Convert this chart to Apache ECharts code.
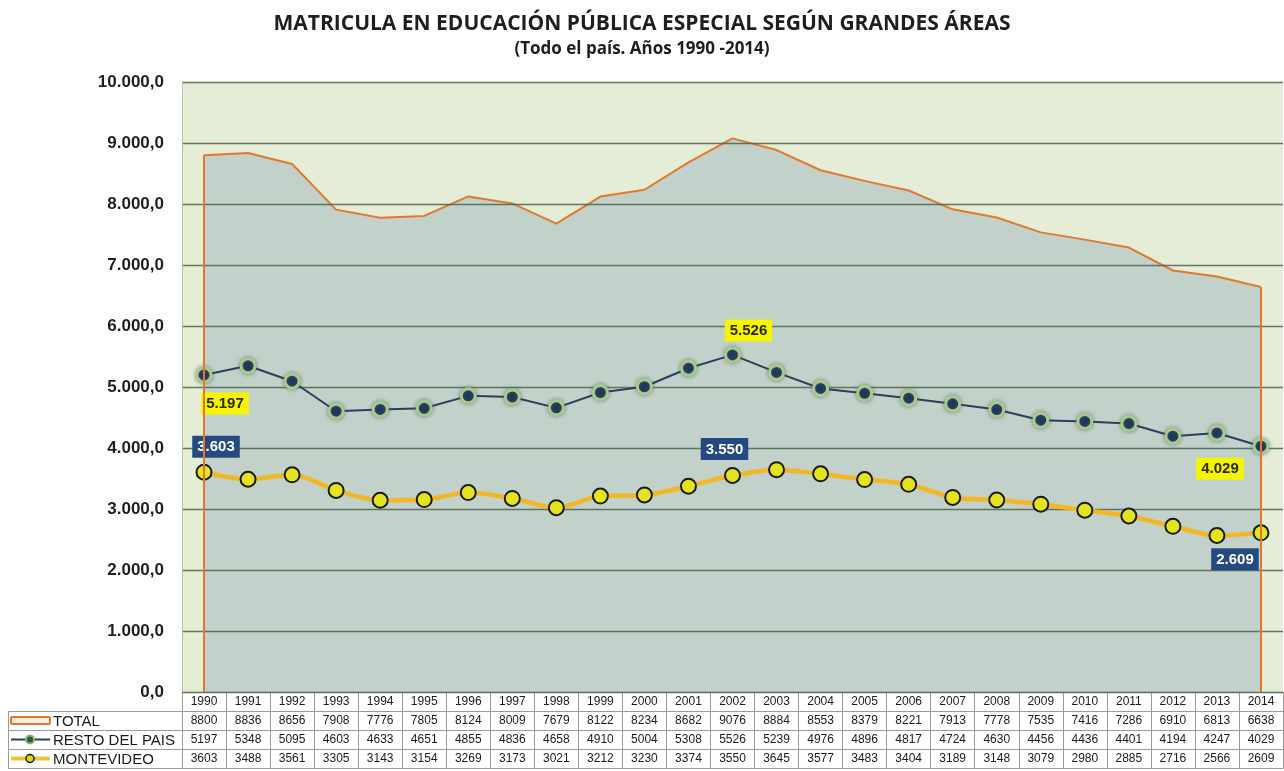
<!DOCTYPE html>
<html>
<head>
<meta charset="utf-8">
<style>
  html, body { margin: 0; padding: 0; background: #ffffff; }
  #chart { width: 1284px; height: 771px; }
</style>
<script src="https://cdn.jsdelivr.net/npm/echarts@6/dist/echarts.min.js"></script>
</head>
<body>
<div id="chart"></div>
<script>
// Enrolment in special public education by area, 1990-2014
const years = ['1990','1991','1992','1993','1994','1995','1996','1997','1998','1999','2000','2001','2002','2003','2004','2005','2006','2007','2008','2009','2010','2011','2012','2013','2014'];
const total = [8800,8836,8656,7908,7776,7805,8124,8009,7679,8122,8234,8682,9076,8884,8553,8379,8221,7913,7778,7535,7416,7286,6910,6813,6638];
const restoDelPais = [5197,5348,5095,4603,4633,4651,4855,4836,4658,4910,5004,5308,5526,5239,4976,4896,4817,4724,4630,4456,4436,4401,4194,4247,4029];
const montevideo = [3603,3488,3561,3305,3143,3154,3269,3173,3021,3212,3230,3374,3550,3645,3577,3483,3404,3189,3148,3079,2980,2885,2716,2566,2609];
const seriesNames = ['TOTAL', 'RESTO DEL PAIS', 'MONTEVIDEO'];
const yTicks = { min: 0, max: 10000, step: 1000 };

const chart = echarts.init(document.getElementById('chart'));

const fmtThousands = v => String(v).replace(/\B(?=(\d{3})+(?!\d))/g, '.');
const fmtAxis = v => fmtThousands(v) + ',0';

const GRID = { left: 182, right: 1, top: 82, bottom: 79 };
const ROW = 19;
const tableLine = '#9a9a9a';

// Table rows drawn as stacked category axes under the plot
function tableAxis(offset, values, showLabel) {
  return {
    type: 'category',
    data: years,
    position: 'bottom',
    offset: offset,
    boundaryGap: true,
    axisLine: { show: true, lineStyle: { color: tableLine, width: 1 } },
    axisTick: { show: showLabel, length: ROW, interval: 0, lineStyle: { color: tableLine, width: 1 } },
    axisLabel: {
      show: showLabel,
      interval: 0,
      margin: 4,
      fontFamily: 'Arial, "Liberation Sans", sans-serif',
      fontSize: 12,
      color: '#1a1a1a',
      formatter: (val, idx) => values ? String(values[idx]) : val
    },
    splitLine: { show: false }
  };
}

// Highlighted value labels
function labelled(values, marks) {
  return values.map((v, i) => {
    const m = marks[i];
    if (!m) return v;
    return {
      value: v,
      label: Object.assign({
        show: true,
        formatter: p => fmtThousands(p.value),
        fontFamily: 'Arial, "Liberation Sans", sans-serif',
        fontWeight: 'bold',
        fontSize: 15,
        padding: [4, 5, 3, 5]
      }, m)
    };
  });
}

const yellowTag = { backgroundColor: '#f6f400', color: '#2a2a10' };
const navyTag = { backgroundColor: '#244a80', color: '#ffffff' };

const restoMarks = {
  0: Object.assign({ position: 'bottom', offset: [21, 4] }, yellowTag),
  12: Object.assign({ position: 'top', offset: [16, 0] }, yellowTag),
  24: Object.assign({ position: 'bottom', offset: [-41, -2] }, yellowTag)
};
const montevideoMarks = {
  0: Object.assign({ position: 'top', offset: [12, -1] }, navyTag),
  12: Object.assign({ position: 'top', offset: [-8, -2] }, navyTag),
  24: Object.assign({ position: 'bottom', offset: [-26, 2] }, navyTag)
};

const last = years.length - 1;

const option = {
  backgroundColor: '#ffffff',
  animation: false,
  title: {
    text: 'MATRICULA EN EDUCACIÓN PÚBLICA ESPECIAL SEGÚN GRANDES ÁREAS',
    subtext: '(Todo el país. Años 1990 -2014)',
    left: 'center',
    top: 9,
    itemGap: 6,
    textStyle: { fontFamily: '"Open Sans", sans-serif', fontWeight: 'bold', fontSize: 21, color: '#1e1e1e' },
    subtextStyle: { fontFamily: '"Open Sans", sans-serif', fontWeight: 'bold', fontSize: 17, color: '#1e1e1e' }
  },
  grid: Object.assign({ show: true, backgroundColor: '#e6edd7', borderWidth: 0 }, GRID),
  xAxis: [
    tableAxis(0, null, true),
    tableAxis(ROW, total, true),
    tableAxis(ROW * 2, restoDelPais, true),
    tableAxis(ROW * 3, montevideo, true),
    tableAxis(ROW * 4, null, false)
  ],
  yAxis: {
    type: 'value',
    min: yTicks.min,
    max: yTicks.max,
    interval: yTicks.step,
    z: 1.5,
    axisLine: { show: true, lineStyle: { color: '#b8c4a8', width: 1 } },
    axisTick: { show: false },
    axisLabel: {
      margin: 18,
      fontFamily: 'Arial, "Liberation Sans", sans-serif',
      fontWeight: 'bold',
      fontSize: 17,
      color: '#1e1e1e',
      formatter: fmtAxis
    },
    splitLine: { show: true, lineStyle: { color: '#4f6b52', width: 1.4, opacity: 0.9 } }
  },
  series: [
    {
      name: seriesNames[0],
      type: 'line',
      data: total,
      z: 1,
      symbol: 'none',
      lineStyle: { color: '#e2782c', width: 2 },
      areaStyle: { color: '#c3d1cb', opacity: 1 },
      markLine: {
        silent: true,
        symbol: 'none',
        label: { show: false },
        lineStyle: { color: '#e2782c', width: 2, type: 'solid' },
        data: [
          [{ coord: [0, 0] }, { coord: [0, total[0]] }],
          [{ coord: [last, 0] }, { coord: [last, total[last]] }]
        ]
      }
    },
    {
      name: seriesNames[1],
      type: 'line',
      data: labelled(restoDelPais, restoMarks),
      z: 3,
      symbol: 'circle',
      symbolSize: 14,
      lineStyle: { color: '#2c3e5c', width: 2 },
      itemStyle: {
        color: '#1f3462',
        borderColor: '#a9c993',
        borderWidth: 3,
        shadowColor: 'rgba(80,110,60,0.6)',
        shadowBlur: 4
      }
    },
    {
      name: seriesNames[2],
      type: 'line',
      data: labelled(montevideo, montevideoMarks),
      z: 4,
      smooth: 0.3,
      symbol: 'circle',
      symbolSize: 15,
      lineStyle: { color: '#f2b722', width: 4.5 },
      itemStyle: {
        color: '#e4e41e',
        borderColor: '#1a1a10',
        borderWidth: 2
      }
    }
  ],
  graphic: []
};

chart.setOption(option);

// Legend column of the data table, left of the year columns
(function drawLegendColumn() {
  const left = 8;
  const right = GRID.left;
  const top0 = 771 - GRID.bottom + ROW;
  const g = [];
  for (let r = 0; r < 3; r++) {
    const y = top0 + r * ROW;
    g.push({
      type: 'rect',
      shape: { x: left + 0.5, y: y + 0.5, width: right - left, height: ROW },
      style: { fill: 'none', stroke: tableLine, lineWidth: 1 }
    });
    g.push({
      type: 'text',
      style: {
        x: 53, y: y + ROW / 2 + 1,
        text: seriesNames[r],
        fontFamily: 'Arial, "Liberation Sans", sans-serif',
        fontSize: 15,
        fill: '#1a1a1a',
        verticalAlign: 'middle'
      }
    });
  }
  // TOTAL icon
  g.push({
    type: 'rect',
    shape: { x: 11, y: top0 + 6, width: 39, height: 7, r: 1 },
    style: { fill: '#f3ede6', stroke: '#e2782c', lineWidth: 2 }
  });
  // RESTO DEL PAIS icon
  let cy = top0 + ROW + ROW / 2;
  g.push({ type: 'line', shape: { x1: 11, y1: cy, x2: 50, y2: cy }, style: { stroke: '#2c3e5c', lineWidth: 2 } });
  g.push({ type: 'circle', shape: { cx: 30, cy: cy, r: 4 }, style: { fill: '#2a5a3a', stroke: '#8fb07a', lineWidth: 2 } });
  // MONTEVIDEO icon
  cy = top0 + ROW * 2 + ROW / 2;
  g.push({ type: 'line', shape: { x1: 11, y1: cy, x2: 50, y2: cy }, style: { stroke: '#f2c52a', lineWidth: 4 } });
  g.push({ type: 'circle', shape: { cx: 30, cy: cy, r: 4 }, style: { fill: '#d8d818', stroke: '#1a1a10', lineWidth: 1.5 } });
  chart.setOption({ graphic: g });
})();
</script>
</body>
</html>
